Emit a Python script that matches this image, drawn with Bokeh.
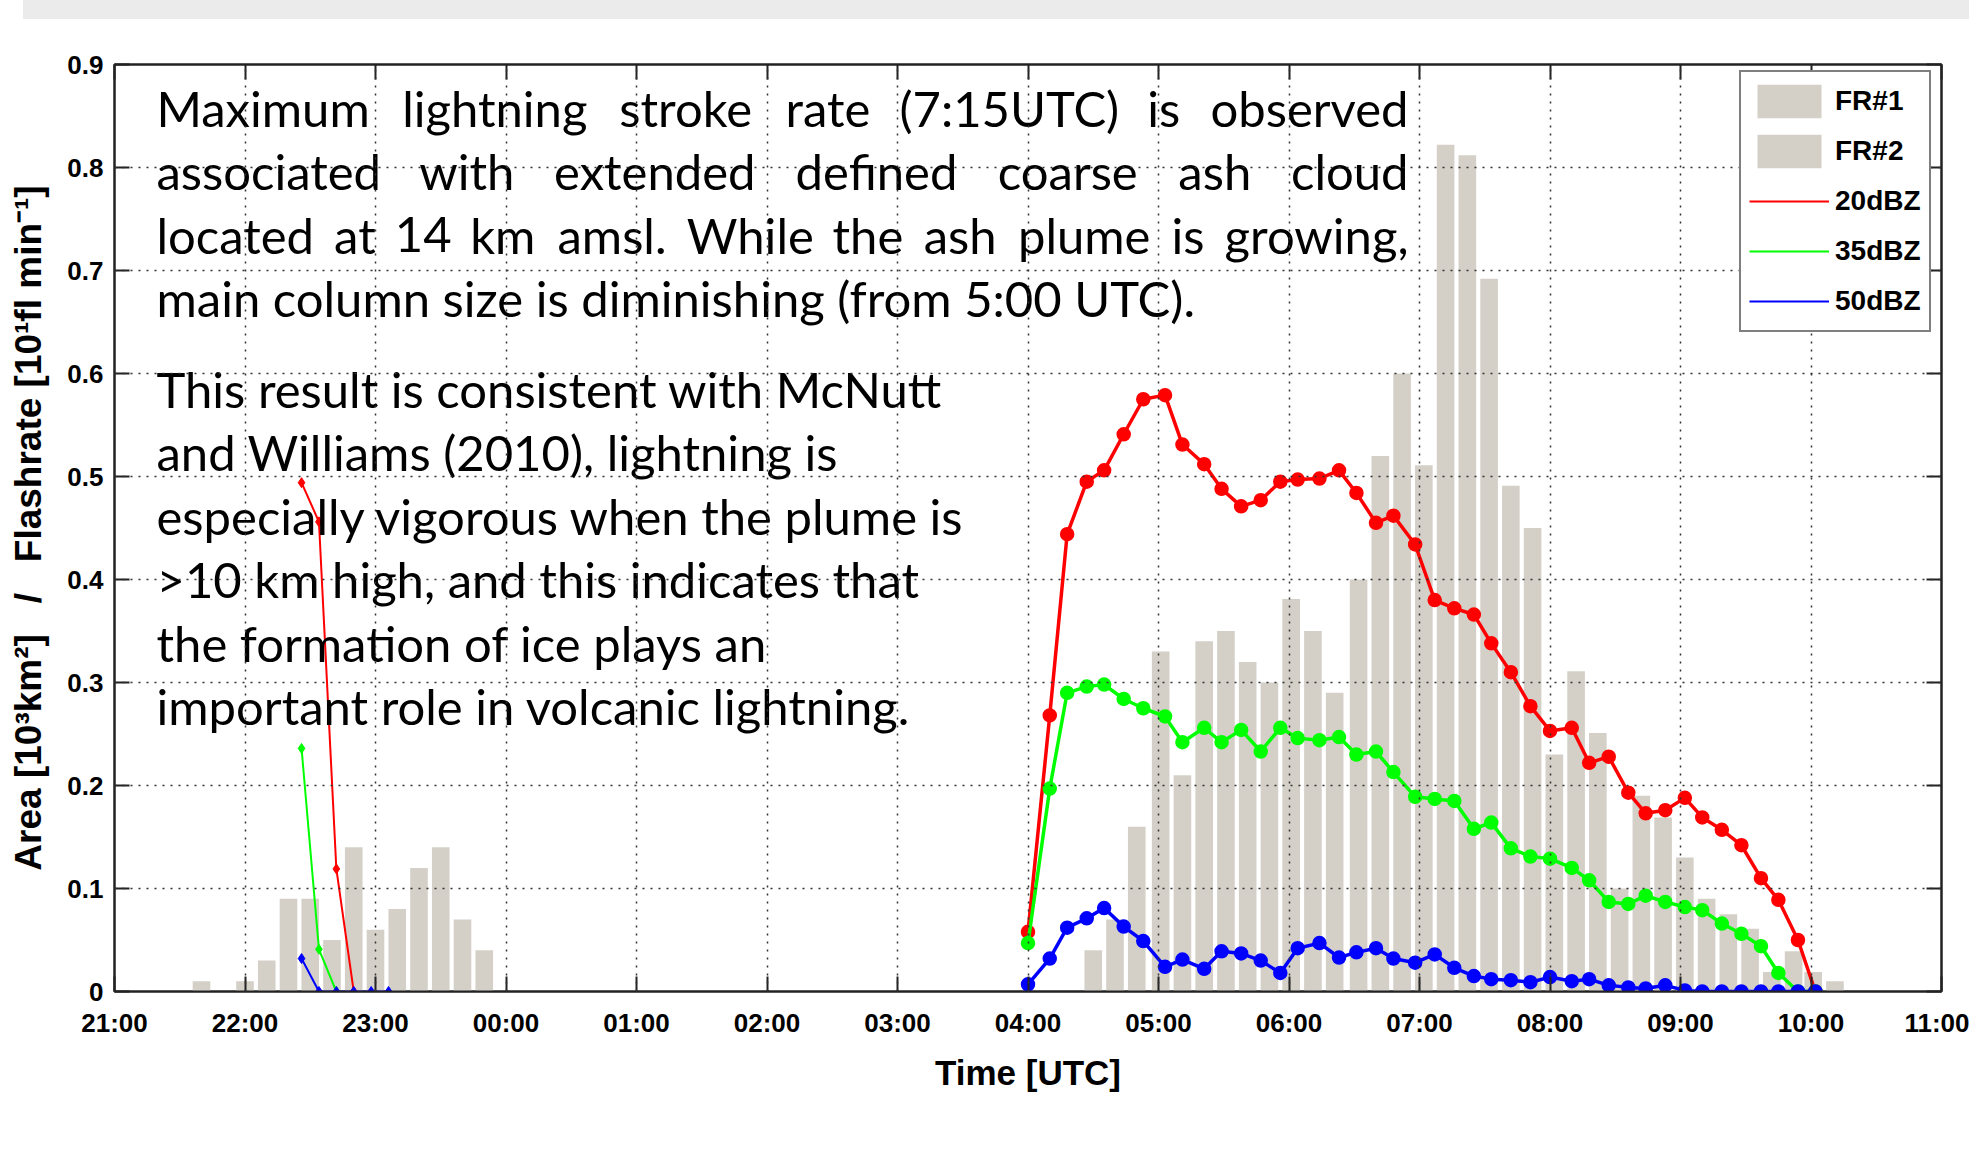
from bokeh.plotting import figure
from bokeh.models import (ColumnDataSource, FixedTicker, LinearAxis, Legend, LegendItem,
                          Div, Range1d, CustomJSTickFormatter)
from bokeh.layouts import column
from bokeh.embed import file_html
from bokeh.resources import INLINE
from bokeh.core.properties import value

# ---------------- data ----------------
x_tick_labels = ["21:00", "22:00", "23:00", "00:00", "01:00", "02:00", "03:00", "04:00",
                 "05:00", "06:00", "07:00", "08:00", "09:00", "10:00", "11:00"]
y_tick_labels = ["0", "0.1", "0.2", "0.3", "0.4", "0.5", "0.6", "0.7", "0.8", "0.9"]

# flash rate bars (10-min bins)
fr1_times = ["21:40", "22:00", "22:10", "22:20", "22:30", "22:40", "22:50", "23:00",
             "23:10", "23:20", "23:30", "23:40", "23:50"]
fr1_values = [0.01, 0.01, 0.03, 0.09, 0.09, 0.05, 0.14, 0.06, 0.08, 0.12, 0.14, 0.07, 0.04]

fr2_times = ["04:30", "04:40", "04:50", "05:01", "05:11", "05:21", "05:31", "05:41", "05:51",
             "06:01", "06:11", "06:21", "06:32", "06:42", "06:52", "07:02", "07:12", "07:22",
             "07:32", "07:42", "07:52", "08:02", "08:12", "08:22", "08:32", "08:42", "08:52",
             "09:02", "09:12", "09:22", "09:32", "09:42", "09:52", "10:01", "10:11"]
fr2_values = [0.040, 0.070, 0.160, 0.330, 0.210, 0.340, 0.350, 0.320, 0.300,
              0.381, 0.350, 0.290, 0.400, 0.520, 0.600, 0.511, 0.822, 0.812,
              0.692, 0.491, 0.450, 0.230, 0.311, 0.251, 0.100, 0.190, 0.169,
              0.130, 0.090, 0.075, 0.061, 0.019, 0.039, 0.019, 0.010]

# radar areas, first episode
early_times = ["22:26", "22:34", "22:42", "22:50", "22:58", "23:06"]
dbz20_early = [0.494, 0.456, 0.119, 0.0]
dbz35_early = [0.236, 0.041, 0.0]
dbz50_early = [0.032, 0.0, 0.0, 0.0, 0.0, 0.0]

# radar areas, second episode
radar_times = ["04:00", "04:10", "04:18", "04:27", "04:35", "04:44", "04:53", "05:03", "05:11",
               "05:21", "05:29", "05:38", "05:47", "05:56", "06:04", "06:14", "06:23", "06:31",
               "06:40", "06:48", "06:58", "07:07", "07:16", "07:25", "07:33", "07:42", "07:51",
               "08:00", "08:10", "08:18", "08:27", "08:36", "08:44", "08:53", "09:02", "09:10",
               "09:19", "09:28", "09:37", "09:45", "09:54", "10:02"]
dbz20 = [0.058, 0.268, 0.444, 0.495, 0.506, 0.541, 0.575, 0.579, 0.531, 0.512, 0.488, 0.471,
         0.477, 0.495, 0.497, 0.498, 0.506, 0.484, 0.455, 0.462, 0.434, 0.380, 0.372, 0.366,
         0.338, 0.310, 0.277, 0.253, 0.256, 0.222, 0.228, 0.193, 0.173, 0.176, 0.188, 0.169,
         0.157, 0.142, 0.110, 0.089, 0.050, 0.0]
dbz35 = [0.047, 0.197, 0.290, 0.296, 0.298, 0.284, 0.275, 0.267, 0.242, 0.256, 0.242, 0.254,
         0.233, 0.256, 0.246, 0.244, 0.247, 0.230, 0.233, 0.213, 0.189, 0.187, 0.185, 0.158,
         0.164, 0.139, 0.131, 0.129, 0.120, 0.108, 0.087, 0.085, 0.093, 0.087, 0.082, 0.079,
         0.066, 0.056, 0.044, 0.018, 0.0, 0.0]
dbz50 = [0.007, 0.032, 0.062, 0.071, 0.081, 0.063, 0.049, 0.024, 0.031, 0.022, 0.039, 0.037,
         0.030, 0.018, 0.042, 0.047, 0.033, 0.038, 0.042, 0.032, 0.028, 0.036, 0.023, 0.015,
         0.012, 0.011, 0.009, 0.014, 0.010, 0.012, 0.006, 0.004, 0.003, 0.006, 0.001, 0.0,
         0.0, 0.0, 0.0, 0.0, 0.0, 0.0]

para1_lines = [
    ["Maximum", "lightning", "stroke", "rate", "(7:15UTC)", "is", "observed"],
    ["associated", "with", "extended", "defined", "coarse", "ash", "cloud"],
    ["located", "at", "14", "km", "amsl.", "While", "the", "ash", "plume", "is", "growing,"],
]
para1_last = "main column size is diminishing (from 5:00 UTC)."
para2_lines = [
    "This result is consistent with McNutt",
    "and Williams (2010), lightning is",
    "especially vigorous when the plume is",
    ">10 km high, and this indicates that",
    "the formation of ice plays an",
    "important role in volcanic lightning.",
]


def hrs(t):
    hh, mm = t.split(":")
    v = int(hh) + int(mm) / 60.0 - 21.0
    return v + 24 if v < 0 else v


# ---------------- layout (page pixels) ----------------
W, H = 1969, 1162
BAND_H = 19
FL, FR, FT, FB = 114, 1941, 64, 991
X0, X1, Y0, Y1 = 0.0, 14.0, 0.0, 0.9


def sx(px):
    return X0 + (px - FL) / (FR - FL) * (X1 - X0)


def sy(py):
    return Y0 + (FB - py) / (FB - FT) * (Y1 - Y0)


BAR_COLOR = "#d4d0c8"
TXT_FONT = "Lato"
TXT_SIZE = "49px"
AX_FONT = "Liberation Sans"
NB = "\u00a0"

p = figure(width=W, height=H - BAND_H, x_range=Range1d(X0, X1), y_range=Range1d(Y0, Y1),
           output_backend="svg", toolbar_location=None,
           min_border_left=FL, min_border_right=W - FR,
           min_border_top=FT - BAND_H, min_border_bottom=(H - BAND_H) - (FB - BAND_H),
           background_fill_color="white", border_fill_color="white")
p.outline_line_color = "#222222"
p.outline_line_width = 2

xt = list(range(len(x_tick_labels)))
yt = [i / 10 for i in range(len(y_tick_labels))]

p.xaxis.ticker = FixedTicker(ticks=xt)
p.xaxis.major_label_overrides = {t: lab for t, lab in zip(xt, x_tick_labels)}
p.yaxis.ticker = FixedTicker(ticks=yt)
p.yaxis.major_label_overrides = {t: lab for t, lab in zip(yt, y_tick_labels)}

for ax in (p.xaxis[0], p.yaxis[0]):
    ax.major_tick_in = 15
    ax.major_tick_out = 0
    ax.minor_tick_line_color = None
    ax.axis_line_color = "#222222"
    ax.axis_line_width = 2
    ax.major_tick_line_color = "#222222"
    ax.major_tick_line_width = 2
    ax.major_label_text_font = AX_FONT
    ax.major_label_text_font_style = "bold"
    ax.major_label_text_font_size = "26px"
    ax.major_label_text_color = "black"
    ax.axis_label_text_font = AX_FONT
    ax.axis_label_text_font_style = "bold"
    ax.axis_label_text_color = "black"

p.xaxis.major_label_standoff = 16
p.xaxis.axis_label = "Time [UTC]"
p.xaxis.axis_label_text_font_size = "35px"
p.xaxis.axis_label_standoff = 12
p.yaxis.major_label_standoff = 11
p.yaxis.axis_label = "Area [10³km²]" + NB * 3 + "/" + NB * 3 + "Flashrate [10¹fl min⁻¹]"
p.yaxis.axis_label_text_font_size = "37px"
p.yaxis.axis_label_standoff = 15

blank = CustomJSTickFormatter(code="return ''")
top_ax = LinearAxis(ticker=FixedTicker(ticks=xt), formatter=blank, major_tick_in=15,
                    major_tick_out=0, minor_tick_line_color=None, axis_line_color="#222222",
                    axis_line_width=2, major_tick_line_color="#222222", major_tick_line_width=2)
right_ax = LinearAxis(ticker=FixedTicker(ticks=yt), formatter=blank, major_tick_in=15,
                      major_tick_out=0, minor_tick_line_color=None, axis_line_color="#222222",
                      axis_line_width=2, major_tick_line_color="#222222", major_tick_line_width=2)
p.add_layout(top_ax, "above")
p.add_layout(right_ax, "right")

for g in (p.xgrid[0], p.ygrid[0]):
    g.grid_line_color = "#333333"
    g.grid_line_dash = "2 6"
    g.grid_line_width = 1.5
    g.level = "overlay"
p.ygrid.ticker = FixedTicker(ticks=yt)
p.xgrid.ticker = FixedTicker(ticks=xt)

# bars
bar_w = 8.1 / 60.0
src1 = ColumnDataSource(dict(x=[hrs(t) for t in fr1_times], top=fr1_values))
src2 = ColumnDataSource(dict(x=[hrs(t) for t in fr2_times], top=fr2_values))
b1 = p.vbar(x="x", top="top", width=bar_w, bottom=0, source=src1, fill_color=BAR_COLOR,
            line_color=None)
b2 = p.vbar(x="x", top="top", width=bar_w, bottom=0, source=src2, fill_color=BAR_COLOR,
            line_color=None)

# lines
colors = {"20": "#ff0000", "35": "#00ff00", "50": "#0000ff"}
legend_lines = {}
for key, early, late in (("20", dbz20_early, dbz20), ("35", dbz35_early, dbz35),
                         ("50", dbz50_early, dbz50)):
    c = colors[key]
    ex = [hrs(t) for t in early_times[:len(early)]]
    r = p.line(ex, early, line_color=c, line_width=2)
    p.scatter(ex, early, marker="diamond", size=10, fill_color=c, line_color=c)
    legend_lines[key] = r
    lx = [hrs(t) for t in radar_times]
    p.line(lx, late, line_color=c, line_width=3.5)
    p.scatter(lx, late, marker="circle", size=13, fill_color=c, line_color=c, line_width=1.5)

legend = Legend(items=[LegendItem(label="FR#1", renderers=[b1]),
                       LegendItem(label="FR#2", renderers=[b2]),
                       LegendItem(label="20dBZ", renderers=[legend_lines["20"]]),
                       LegendItem(label="35dBZ", renderers=[legend_lines["35"]]),
                       LegendItem(label="50dBZ", renderers=[legend_lines["50"]])],
                location=(1739 - FL, FB - 332), glyph_width=80, glyph_height=42,
                label_standoff=6, spacing=8, padding=8, margin=0,
                border_line_color="black", border_line_width=2, background_fill_alpha=1.0,
                label_text_font=AX_FONT, label_text_font_style="bold",
                label_text_font_size="28px", label_text_color="black")
p.add_layout(legend)

# ---------------- annotation text ----------------
P1_BASE = [107, 170.5, 234, 297.5]
P2_BASE = [388, 451.5, 515, 578.5, 642, 705.5]
TXT_LEFT, TXT_RIGHT = 156, 1408
WORD_CENTERS = [
    [494.3, 685.2, 827.4, 1008.8, 1163.2],
    [466.3, 654.3, 876.0, 1067.3, 1214.3],
    [354.4, 422.7, 502.3, 611.5, 749.8, 867.4, 959.7, 1083.7, 1187.5],
]

lx_, ly_, lt_ = [], [], []
cx_, cy_, ct_ = [], [], []
rx_, ry_, rt_ = [], [], []
for words, centers, base in zip(para1_lines, WORD_CENTERS, P1_BASE):
    lx_.append(sx(TXT_LEFT)); ly_.append(sy(base)); lt_.append(words[0])
    rx_.append(sx(TXT_RIGHT)); ry_.append(sy(base)); rt_.append(words[-1])
    for w, c in zip(words[1:-1], centers):
        cx_.append(sx(c)); cy_.append(sy(base)); ct_.append(w)
lx_.append(sx(TXT_LEFT)); ly_.append(sy(P1_BASE[3])); lt_.append(para1_last)
for line, base in zip(para2_lines, P2_BASE):
    lx_.append(sx(TXT_LEFT)); ly_.append(sy(base)); lt_.append(line)

for xs, ys, ts, al in ((lx_, ly_, lt_, "left"), (cx_, cy_, ct_, "center"),
                       (rx_, ry_, rt_, "right")):
    p.text(x=xs, y=ys, text=ts, text_font=value(TXT_FONT), text_font_size=TXT_SIZE,
           text_color="black", text_align=al, text_baseline="alphabetic")

band = Div(text="", width=W - 23, height=BAND_H, margin=(0, 0, 0, 23),
           styles={"background-color": "#ebebeb"})
p.margin = (0, 0, 0, 0)
layout = column(band, p, spacing=0, margin=(0, 0, 0, 0))

open("out.html", "w").write(file_html(layout, INLINE))
